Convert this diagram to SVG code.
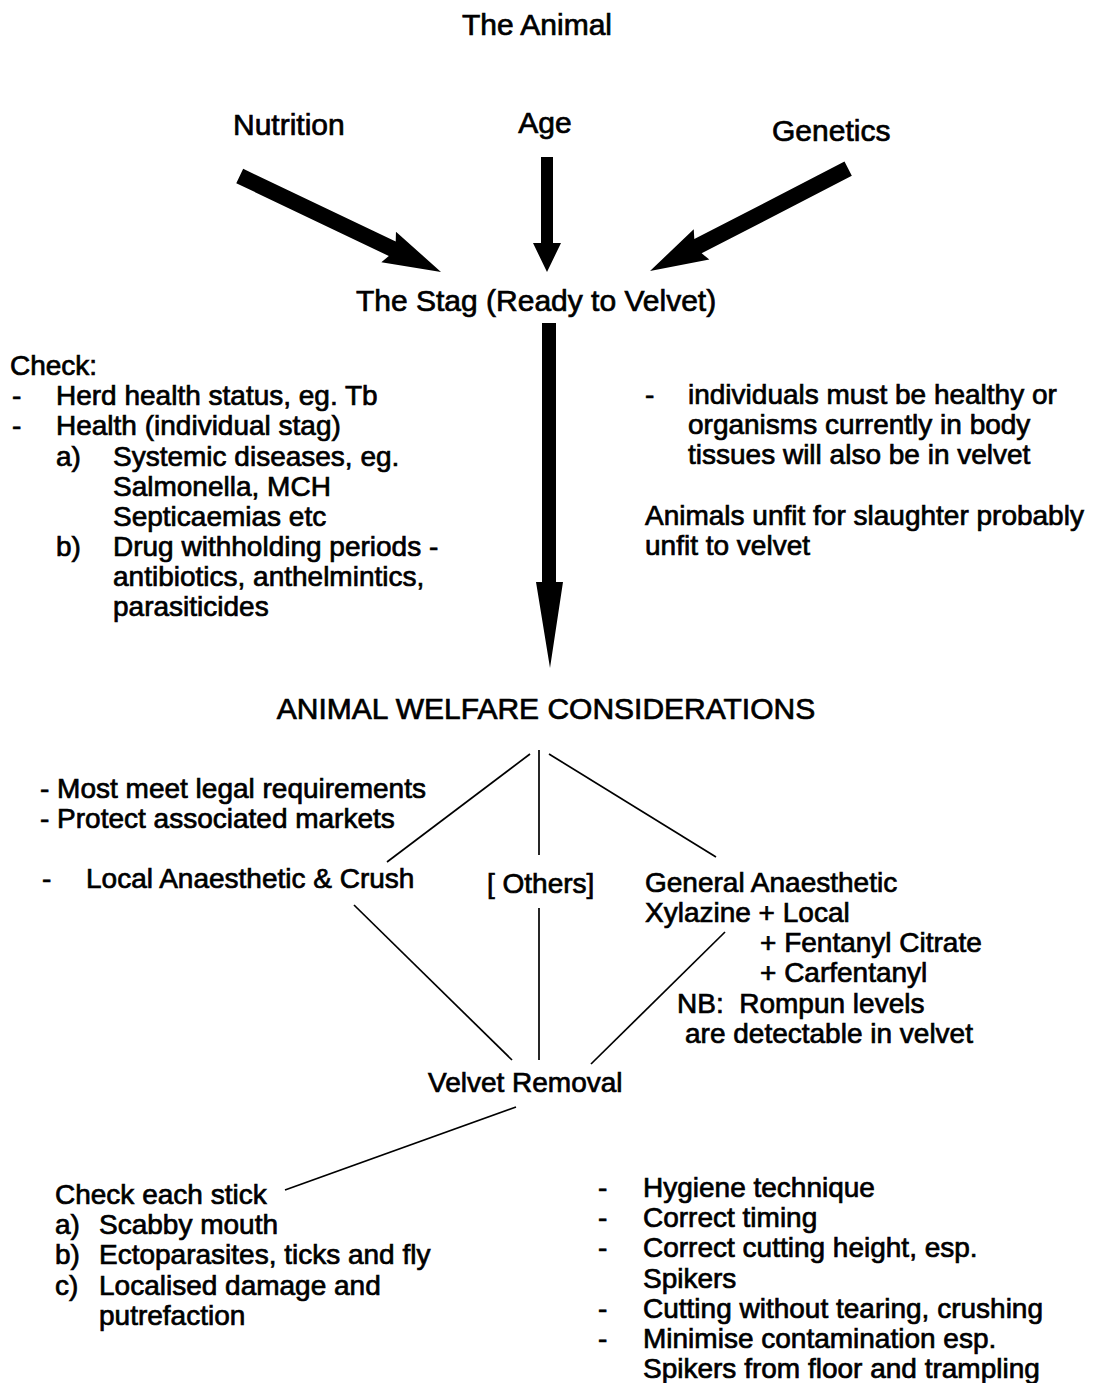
<svg xmlns="http://www.w3.org/2000/svg" width="1095" height="1383" viewBox="0 0 1095 1383">
<style>
text{font-family:"Liberation Sans",Arial,sans-serif;fill:#000;stroke:#000;stroke-width:0.7}
.h{font-size:30px}
.b{font-size:28px}
.ln{stroke:#000;stroke-width:1.7;fill:none}
.ar{fill:#000}
</style>
<rect width="1095" height="1383" fill="#fff"/>
<g id="connectors">
<g transform="translate(441,272) rotate(25.5)"><polygon class="ar" points="-223,-8 -54,-8 -58,-17 0,0 -58,17 -54,8 -223,8"/></g>
<polygon class="ar" points="541,157 553,157 553,243 561,243 547,272 533,243 541,243"/>
<g transform="translate(650,271) rotate(152.7)"><polygon class="ar" points="-223,-8 -54,-8 -58,-17 0,0 -58,17 -54,8 -223,8"/></g>
<polygon class="ar" points="542,323 556,323 556,582 563,582 550,668 536,582 542,582"/>
<line class="ln" x1="530" y1="754" x2="387" y2="862"/>
<line class="ln" x1="539" y1="750" x2="539" y2="855"/>
<line class="ln" x1="549" y1="754" x2="716" y2="857"/>
<line class="ln" x1="354" y1="905" x2="512" y2="1060"/>
<line class="ln" x1="539" y1="908" x2="539" y2="1060"/>
<line class="ln" x1="725" y1="932" x2="591" y2="1064"/>
<line class="ln" x1="516" y1="1107" x2="285" y2="1190"/>
</g>
<g id="animal"><text class="h" x="537" y="35" text-anchor="middle">The Animal</text></g>
<g id="nutrition"><text class="h" x="233" y="135">Nutrition</text></g>
<g id="age"><text class="h" x="545" y="133" text-anchor="middle">Age</text></g>
<g id="genetics"><text class="h" x="772" y="141">Genetics</text></g>
<g id="stag"><text class="h" x="356" y="311">The Stag (Ready to Velvet)</text></g>
<g id="check-left" class="b">
<text x="10" y="375">Check:</text>
<text x="12" y="405">-</text><text x="56" y="405">Herd health status, eg. Tb</text>
<text x="12" y="435">-</text><text x="56" y="435">Health (individual stag)</text>
<text x="56" y="466">a)</text><text x="113" y="466">Systemic diseases, eg.</text>
<text x="113" y="496">Salmonella, MCH</text>
<text x="113" y="526">Septicaemias etc</text>
<text x="56" y="556">b)</text><text x="113" y="556">Drug withholding periods -</text>
<text x="113" y="586">antibiotics, anthelmintics,</text>
<text x="113" y="616">parasiticides</text>
</g>
<g id="check-right" class="b">
<text x="645" y="404">-</text><text x="688" y="404">individuals must be healthy or</text>
<text x="688" y="434">organisms currently in body</text>
<text x="688" y="464">tissues will also be in velvet</text>
<text x="645" y="525">Animals unfit for slaughter probably</text>
<text x="645" y="555">unfit to velvet</text>
</g>
<g id="welfare"><text class="h" x="546" y="719" text-anchor="middle">ANIMAL WELFARE CONSIDERATIONS</text></g>
<g id="legal" class="b">
<text x="40" y="798">- Most meet legal requirements</text>
<text x="40" y="828">- Protect associated markets</text>
</g>
<g id="local" class="b"><text x="42" y="888">-</text><text x="86" y="888">Local Anaesthetic &amp; Crush</text></g>
<g id="others" class="b"><text x="487" y="893">[ Others]</text></g>
<g id="general" class="b">
<text x="645" y="892">General Anaesthetic</text>
<text x="645" y="922">Xylazine + Local</text>
<text x="760" y="952">+ Fentanyl Citrate</text>
<text x="760" y="982">+ Carfentanyl</text>
<text x="677" y="1013" xml:space="preserve">NB:  Rompun levels</text>
<text x="685" y="1043">are detectable in velvet</text>
</g>
<g id="removal" class="b"><text x="428" y="1092">Velvet Removal</text></g>
<g id="stick" class="b">
<text x="55" y="1204">Check each stick</text>
<text x="55" y="1234">a)</text><text x="99" y="1234">Scabby mouth</text>
<text x="55" y="1264">b)</text><text x="99" y="1264">Ectoparasites, ticks and fly</text>
<text x="55" y="1295">c)</text><text x="99" y="1295">Localised damage and</text>
<text x="99" y="1325">putrefaction</text>
</g>
<g id="technique" class="b">
<text x="598" y="1197">-</text><text x="643" y="1197">Hygiene technique</text>
<text x="598" y="1227">-</text><text x="643" y="1227">Correct timing</text>
<text x="598" y="1257">-</text><text x="643" y="1257">Correct cutting height, esp.</text>
<text x="643" y="1288">Spikers</text>
<text x="598" y="1318">-</text><text x="643" y="1318">Cutting without tearing, crushing</text>
<text x="598" y="1348">-</text><text x="643" y="1348">Minimise contamination esp.</text>
<text x="643" y="1378">Spikers from floor and trampling</text>
</g>
</svg>
